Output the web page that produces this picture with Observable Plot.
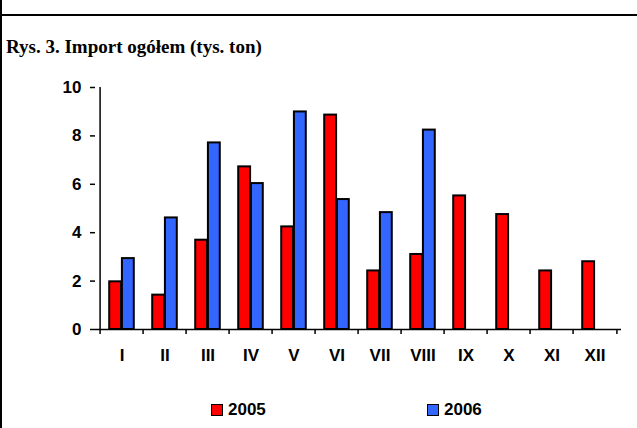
<!DOCTYPE html>
<html>
<head>
<meta charset="utf-8">
<script src="https://cdn.jsdelivr.net/npm/d3@7"></script>
<script src="https://cdn.jsdelivr.net/npm/@observablehq/plot@0.6"></script>
<style>
  html, body { margin: 0; padding: 0; background: #fff; }
  #page { position: relative; width: 637px; height: 428px; overflow: hidden; background: #fff; }
  #vline { position: absolute; left: 0; top: 0; width: 2px; height: 428px; background: #000; }
  #hline { position: absolute; left: 0; top: 14px; width: 637px; height: 2px; background: #000; }
  #title { position: absolute; left: 6px; top: 36px; font-family: "Liberation Serif", "Times New Roman", serif; font-weight: bold; font-size: 19px; color: #000; white-space: nowrap; }
  #chart { position: absolute; left: 0; top: 70px; }
  #legend { position: absolute; left: 0; top: 400px; width: 637px; height: 20px; font-family: "Liberation Sans", Arial, sans-serif; font-weight: bold; font-size: 17px; }
  .item { position: absolute; top: 0; display: flex; align-items: center; }
  .sw { width: 10px; height: 10px; border: 1.5px solid #000; margin-right: 5px; }
</style>
</head>
<body>
<div id="page">
  <div id="vline"></div>
  <div id="hline"></div>
  <div id="title">Rys. 3. Import ogółem (tys. ton)</div>
  <div id="chart"></div>
  <div id="legend"></div>
</div>
<script>
const months = ["I", "II", "III", "IV", "V", "VI", "VII", "VIII", "IX", "X", "XI", "XII"];
const years = ["2005", "2006"];
const values2005 = [1.97, 1.42, 3.69, 6.72, 4.24, 8.86, 2.42, 3.10, 5.52, 4.75, 2.42, 2.80];
const values2006 = [2.93, 4.61, 7.71, 6.03, 8.99, 5.37, 4.83, 8.24, null, null, null, null];
const yTicks = [0, 2, 4, 6, 8, 10];
const colors = ["#ff0000", "#3366ff"];

const data2005 = months.map((m, i) => ({month: m, year: years[0], value: values2005[i]}));
const data2006 = months.map((m, i) => ({month: m, year: years[1], value: values2006[i]})).filter(d => d.value != null);

const W = 637, mL = 95, mR = 16;
const step = (W - mL - mR) / months.length;
const barW = 12.7;
const outer = (step - 2 * barW) / 2;

const font = {fontSize: 17, fontWeight: "bold"};

const chart = Plot.plot({
  width: W,
  height: 299,
  marginLeft: mL,
  marginRight: mR,
  marginTop: 17,
  marginBottom: 40,
  style: {fontFamily: "'Liberation Sans', Arial, sans-serif", color: "#000", background: "transparent", overflow: "visible"},
  x: {domain: months, padding: 0, axis: null, label: null},
  y: {domain: [0, 10], axis: null, label: null},
  color: {domain: years, range: colors},
  marks: [
    Plot.barY(data2005, {x: "month", y: "value", fill: "year", stroke: "#000", strokeWidth: 2, insetLeft: outer, insetRight: step - outer - barW}),
    Plot.barY(data2006, {x: "month", y: "value", fill: "year", stroke: "#000", strokeWidth: 2, insetLeft: step - outer - barW, insetRight: outer}),
    Plot.ruleY([0], {stroke: "#000", strokeWidth: 1.5}),
    Plot.ruleX([months[0]], {y1: 0, y2: 10, dx: -step / 2, stroke: "#000", strokeWidth: 1.5}),
    Plot.axisY(yTicks, {tickSize: 5, tickPadding: 9, strokeWidth: 1.5, label: null, ...font}),
    Plot.axisX(months, {tickSize: 5, dx: -step / 2, tickFormat: () => "", strokeWidth: 1.5, label: null}),
    Plot.axisX([months[months.length - 1]], {tickSize: 5, dx: step / 2, tickFormat: () => "", strokeWidth: 1.5, label: null}),
    Plot.axisX(months, {tickSize: 0, tickPadding: 19, label: null, ...font})
  ]
});
document.getElementById("chart").appendChild(chart);

const legend = document.getElementById("legend");
const legendX = [211, 427];
years.forEach((y, i) => {
  const item = document.createElement("div");
  item.className = "item";
  item.style.left = legendX[i] + "px";
  const sw = document.createElement("div");
  sw.className = "sw";
  sw.style.background = colors[i];
  const t = document.createElement("span");
  t.textContent = y;
  item.appendChild(sw);
  item.appendChild(t);
  legend.appendChild(item);
});
</script>
</body>
</html>
